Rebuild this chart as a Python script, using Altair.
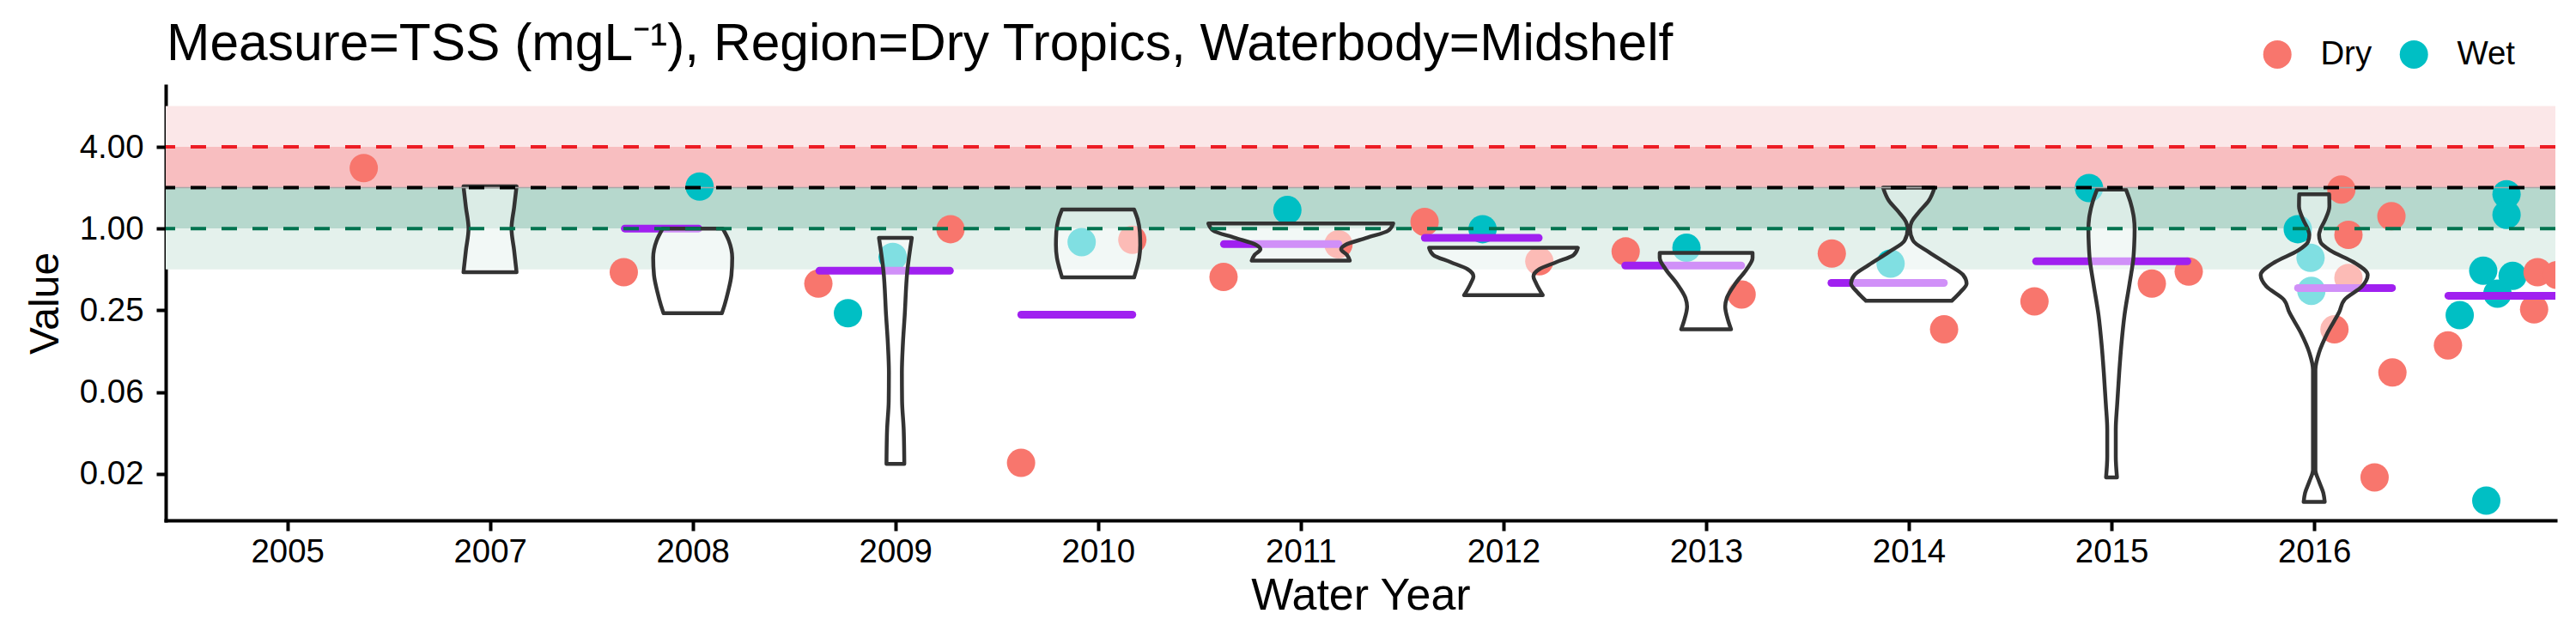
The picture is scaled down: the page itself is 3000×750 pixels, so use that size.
import altair as alt
import pandas as pd

TITLE = "Measure=TSS (mgL\u207b\u00b9), Region=Dry Tropics, Waterbody=Midshelf"
FONT = "Liberation Sans"

# x axis: category slots (1 = 2005, 2 = 2007, ... 11 = 2016)
year_labels = ["2005", "2007", "2008", "2009", "2010", "2011", "2012", "2013", "2014", "2015", "2016"]
year_pos = list(range(1, 12))

# y axis ticks (log2 scale)
y_ticks = [0.015625, 0.0625, 0.25, 1, 4]

# points (x in slot units, value, season)
pt_x = [1.377, 2.660, 3.034, 3.620, 3.766, 3.987, 4.272, 4.620, 4.919, 5.169,
        5.619, 5.934, 6.186, 6.611, 6.897, 7.177, 7.603, 7.903, 8.175, 8.620,
        8.910, 9.174, 9.620, 9.889, 10.199, 10.381, 10.919, 10.982, 10.986, 11.100,
        11.134, 11.169, 11.169, 11.298, 11.381, 11.386, 11.660, 11.718, 11.834, 11.849,
        11.904, 11.949, 11.949, 11.979, 12.085, 12.102, 12.199]
pt_v = [2.79, 0.477, 2.04, 0.393, 0.238, 0.618, 0.99, 0.0188, 0.795, 0.827,
        0.44, 1.37, 0.766, 1.12, 0.99, 0.574, 0.678, 0.722, 0.327, 0.655,
        0.552, 0.181, 0.291, 1.99, 0.393, 0.482, 0.99, 0.609, 0.348, 0.181,
        1.94, 0.899, 0.433, 0.0147, 1.232, 0.087, 0.138, 0.23, 0.489, 0.0099,
        0.332, 1.79, 1.263, 0.448, 0.254, 0.477, 0.455]
pt_season = ["Dry", "Dry", "Wet", "Dry", "Wet", "Wet", "Dry", "Dry", "Wet", "Dry",
             "Dry", "Wet", "Dry", "Dry", "Wet", "Dry", "Dry", "Wet", "Dry", "Dry",
             "Wet", "Dry", "Dry", "Wet", "Dry", "Dry", "Wet", "Wet", "Wet", "Dry",
             "Dry", "Dry", "Dry", "Dry", "Dry", "Dry", "Dry", "Wet", "Wet", "Wet",
             "Wet", "Wet", "Wet", "Wet", "Dry", "Dry", "Dry"]

# purple summary bars
bar_x1 = [2.665, 3.625, 4.621, 5.621, 6.612, 7.601, 8.618, 9.628, 10.920, 11.662]
bar_x2 = [3.029, 4.269, 5.169, 6.186, 7.174, 8.173, 9.173, 10.374, 11.384, 12.250]
bar_v = [1.0, 0.489, 0.232, 0.769, 0.855, 0.534, 0.398, 0.574, 0.365, 0.32]

# violin outlines: value and half-width (slot units)
vio_years = ["2007", "2008", "2009", "2010", "2011", "2012", "2013", "2014", "2015", "2016"]
vio_centers = [2, 3, 4, 5, 6, 7, 8, 9, 10, 11]
v2007_v = [2.05, 1.44, 1.0, 0.69, 0.477]
v2007_w = [0.131, 0.119, 0.106, 0.119, 0.131]
v2008_v = [1.0, 0.815, 0.609, 0.455, 0.34, 0.273, 0.238]
v2008_w = [0.148, 0.178, 0.195, 0.191, 0.174, 0.157, 0.144]
v2009_v = [0.855, 0.489, 0.23, 0.141, 0.087, 0.0535, 0.033, 0.0185]
v2009_w = [0.081, 0.059, 0.046, 0.037, 0.032, 0.033, 0.041, 0.044]
v2010_v = [1.38, 1.174, 0.943, 0.758, 0.609, 0.511, 0.437]
v2010_w = [0.178, 0.195, 0.206, 0.208, 0.203, 0.191, 0.178]
v2011_v = [1.091, 0.967, 0.855, 0.758, 0.704, 0.639, 0.58]
v2011_w = [0.456, 0.432, 0.326, 0.22, 0.199, 0.228, 0.242]
v2012_v = [0.722, 0.639, 0.566, 0.502, 0.444, 0.393, 0.323]
v2012_w = [0.367, 0.346, 0.261, 0.177, 0.148, 0.162, 0.194]
v2013_v = [0.662, 0.609, 0.502, 0.393, 0.308, 0.266, 0.209, 0.181]
v2013_w = [0.229, 0.229, 0.2, 0.144, 0.102, 0.094, 0.109, 0.123]
v2014_v = [2.0, 1.61, 1.325, 1.119, 0.99, 0.815, 0.671, 0.539, 0.455, 0.393, 0.34, 0.294]
v2014_w = [0.127, 0.099, 0.05, 0.014, 0.006, 0.021, 0.099, 0.198, 0.268, 0.285, 0.254, 0.212]
v2015_v = [1.94, 1.57, 1.263, 0.99, 0.758, 0.609, 0.393, 0.23, 0.141, 0.087, 0.051, 0.033, 0.021, 0.0147]
v2015_w = [0.071, 0.093, 0.108, 0.114, 0.112, 0.108, 0.089, 0.064, 0.049, 0.038, 0.028, 0.021, 0.021, 0.027]
v2016_v = [1.79, 1.46, 1.145, 0.99, 0.899, 0.795, 0.687, 0.566, 0.455, 0.375, 0.301, 0.242,
           0.172, 0.122, 0.0913, 0.0167, 0.0137, 0.0113, 0.0097]
v2016_w = [0.074, 0.075, 0.052, 0.031, 0.024, 0.031, 0.081, 0.194, 0.264, 0.236, 0.151, 0.123,
           0.067, 0.024, 0.006, 0.006, 0.024, 0.045, 0.052]
vio_profiles = [(v2007_v, v2007_w), (v2008_v, v2008_w), (v2009_v, v2009_w), (v2010_v, v2010_w),
                (v2011_v, v2011_w), (v2012_v, v2012_w), (v2013_v, v2013_w), (v2014_v, v2014_w),
                (v2015_v, v2015_w), (v2016_v, v2016_w)]

# guideline bands and dashed thresholds
band_lo = [4, 2, 1, 0.5]
band_hi = [8, 4, 2, 1]
band_colors = ["#FBE7E8", "#F8BEC0", "#B6D8CD", "#E4F1EC"]
line_v = [4, 2, 1]
line_colors = ["#ED1C24", "#000000", "#00734F"]

# ---------------------------------------------------------------- build
W, H = 2783, 506
xscale = alt.Scale(domain=[0.4, 12.19], nice=False, zero=False)
yscale = alt.Scale(type="log", base=2, domain=[0.00709, 11.25], nice=False)

label_js = "[" + ",".join("'" + s + "'" for s in year_labels) + "][datum.value - 1]"

X_AX = alt.Axis(values=year_pos, labelExpr=label_js, title="Water Year", grid=False,
                domainColor="black", domainWidth=4, domainCap="square",
                tickColor="black", tickWidth=4, tickSize=12,
                labelFont=FONT, labelFontSize=38.4, labelColor="black", labelPadding=6,
                titleFont=FONT, titleFontSize=52, titleFontWeight="normal", titleColor="black",
                titleBaseline="alphabetic", titleY=103, labelFlush=False)
Y_AX = alt.Axis(values=y_ticks, format=".2f", title="Value", grid=False,
                domainColor="black", domainWidth=4, domainCap="square",
                tickColor="black", tickWidth=4, tickSize=11,
                labelFont=FONT, labelFontSize=38.4, labelColor="black", labelPadding=15,
                titleFont=FONT, titleFontSize=48, titleFontWeight="normal", titleColor="black",
                titleX=-139.5, titleY=H / 2, titleAngle=270, titleAlign="center",
                titleBaseline="middle", labelFlush=False)

layers = []
for lo, hi, col in zip(band_lo, band_hi, band_colors):
    d = pd.DataFrame({"lo": [lo], "hi": [hi]})
    layers.append(alt.Chart(d).mark_rect(color=col, opacity=1).encode(
        x=alt.value(0), x2=alt.value(W),
        y=alt.Y("lo:Q", scale=yscale, axis=Y_AX), y2="hi:Q"))

pts = pd.DataFrame({"x": pt_x, "v": pt_v, "Season": pt_season})
layers.append(alt.Chart(pts).mark_circle(size=1089, opacity=1, clip=True).encode(
    x=alt.X("x:Q", scale=xscale, axis=X_AX),
    y=alt.Y("v:Q", scale=yscale, axis=Y_AX),
    color=alt.Color("Season:N", scale=alt.Scale(domain=["Dry", "Wet"], range=["#F8766D", "#00BFC4"]),
                    legend=alt.Legend(orient="none", legendX=2440, legendY=-56, direction="horizontal",
                                      title=None, labelFont=FONT, labelFontSize=38.4, labelColor="black",
                                      symbolType="circle", symbolSize=1089, symbolStrokeWidth=0,
                                      symbolOpacity=1, labelOffset=31, columnPadding=29, padding=0))))

bars = pd.DataFrame({"x1": bar_x1, "x2": bar_x2, "v": bar_v})
layers.append(alt.Chart(bars).mark_rule(color="#A020F0", strokeWidth=9, strokeCap="round", clip=True).encode(
    x=alt.X("x1:Q", scale=xscale, axis=X_AX), x2="x2:Q",
    y=alt.Y("v:Q", scale=yscale, axis=Y_AX)))

rows = []
for yr, c, (vs, ws) in zip(vio_years, vio_centers, vio_profiles):
    for v, w in zip(vs, ws):
        rows.append({"year": yr, "v": v, "xl": c - w, "xr": c + w})
vio = pd.DataFrame(rows)
layers.append(alt.Chart(vio).mark_area(orient="horizontal", interpolate="monotone", fill="white",
                                       fillOpacity=0.5, stroke="#333333", strokeWidth=4.5,
                                       strokeJoin="round").encode(
    y=alt.Y("v:Q", scale=yscale, axis=Y_AX),
    x=alt.X("xl:Q", scale=xscale, axis=X_AX), x2="xr:Q",
    detail="year:N"))

layers.append(alt.Chart(pd.DataFrame({"v": [2]})).mark_rule(color="#A8A8A8", strokeWidth=1.5).encode(
    y=alt.Y("v:Q", scale=yscale, axis=Y_AX)))
for v, col in zip(line_v, line_colors):
    layers.append(alt.Chart(pd.DataFrame({"v": [v]})).mark_rule(color=col, strokeWidth=4,
                                                                 strokeDash=[18, 18]).encode(
        y=alt.Y("v:Q", scale=yscale, axis=Y_AX)))

# chart title as a text annotation above the panel
layers.append(alt.Chart(pd.DataFrame({"t": [TITLE]})).mark_text(
    align="left", baseline="alphabetic", font=FONT, fontSize=60.5, color="black").encode(
    x=alt.value(1), y=alt.value(-30), text="t:N"))

chart = alt.layer(*layers).properties(
    width=W, height=H,
    autosize=alt.AutoSizeParams(type="none"),
    padding={"left": 185, "top": 92, "right": 8, "bottom": 136},
    background="white",
).configure_view(stroke=None)

chart.save("out.html", embed_options={"renderer": "svg", "actions": False})
